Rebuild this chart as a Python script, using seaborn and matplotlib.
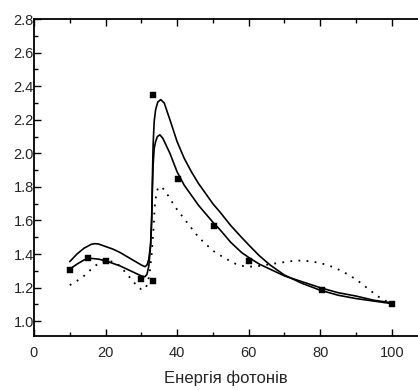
import numpy as np
import pandas as pd
import matplotlib
matplotlib.use('Agg')
import matplotlib.pyplot as plt
import seaborn as sns
from matplotlib.ticker import MultipleLocator

# ---- data ----
# upper solid curve
x_upper = [10, 12, 14, 16, 17, 18, 20, 22, 24, 26, 28, 30, 31, 31.6, 32.1, 32.6, 32.9, 33.1,
           33.3, 33.6, 34.0, 34.6, 35.4, 36.4, 38, 40, 42, 44, 46, 48, 50, 52, 55, 58, 60,
           63, 66, 70, 75, 80, 85, 90, 95, 100]
y_upper = [1.355, 1.40, 1.435, 1.458, 1.462, 1.46, 1.445, 1.43, 1.41, 1.385, 1.36, 1.335,
           1.325, 1.335, 1.37, 1.46, 1.62, 1.85, 2.05, 2.19, 2.26, 2.305, 2.32, 2.30, 2.20,
           2.07, 1.97, 1.89, 1.82, 1.76, 1.70, 1.65, 1.57, 1.50, 1.455, 1.39, 1.335, 1.275,
           1.225, 1.185, 1.155, 1.135, 1.12, 1.105]

# lower solid curve
x_lower = [10, 12, 14, 15, 16, 18, 20, 22, 24, 26, 28, 30, 31, 31.6, 32.1, 32.6, 32.9, 33.1,
           33.3, 33.6, 34.0, 34.5, 35.2, 36, 38, 40, 42, 44, 46, 48, 50, 52, 55, 58, 60, 63,
           66, 70, 75, 80, 85, 90, 95, 100]
y_lower = [1.31, 1.34, 1.365, 1.372, 1.374, 1.37, 1.36, 1.345, 1.33, 1.31, 1.29, 1.27,
           1.265, 1.28, 1.33, 1.45, 1.60, 1.78, 1.93, 2.03, 2.07, 2.10, 2.11, 2.09, 2.00,
           1.89, 1.81, 1.75, 1.69, 1.64, 1.59, 1.545, 1.47, 1.41, 1.38, 1.34, 1.31, 1.27,
           1.235, 1.20, 1.17, 1.15, 1.125, 1.11]

# dotted curve
x_dot = [10, 12, 14, 16, 18, 20, 22, 24, 26, 28, 29, 30, 31, 31.8, 32.4, 32.9, 33.4, 33.8,
         34.3, 34.8, 35.5, 36.6, 38, 40, 42, 44, 46, 48, 50, 53, 56, 58, 60, 62, 65, 68,
         72, 75, 78, 82, 86, 90, 93, 96, 100]
y_dot = [1.215, 1.24, 1.27, 1.31, 1.345, 1.36, 1.355, 1.33, 1.28, 1.23, 1.205, 1.19, 1.19,
         1.225, 1.30, 1.40, 1.55, 1.70, 1.77, 1.80, 1.80, 1.78, 1.73, 1.665, 1.61, 1.555,
         1.50, 1.46, 1.42, 1.38, 1.345, 1.33, 1.325, 1.326, 1.336, 1.346, 1.358, 1.362,
         1.355, 1.336, 1.30, 1.25, 1.20, 1.15, 1.10]

# measured points (squares)
x_pts = [10, 15, 20, 30, 33.4, 33.4, 40.3, 50.4, 60.2, 80.4, 100.2]
y_pts = [1.305, 1.378, 1.36, 1.25, 1.24, 2.35, 1.845, 1.566, 1.36, 1.187, 1.104]

x_ticks = [0, 20, 40, 60, 80, 100]
y_ticks = [1.0, 1.2, 1.4, 1.6, 1.8, 2.0, 2.2, 2.4, 2.6, 2.8]
x_title = 'Енергія фотонів'

# ---- style ----
sns.set_style('ticks')
plt.rcParams['font.family'] = ['Liberation Sans', 'DejaVu Sans']

fig = plt.figure(figsize=(4.18, 3.9), dpi=100)
ax = fig.add_axes([34 / 418, 1 - 336 / 390, 384 / 418, (336 - 19) / 390])

df_upper = pd.DataFrame({'x': x_upper, 'y': y_upper})
df_lower = pd.DataFrame({'x': x_lower, 'y': y_lower})
df_dot = pd.DataFrame({'x': x_dot, 'y': y_dot})
df_pts = pd.DataFrame({'x': x_pts, 'y': y_pts})

sns.lineplot(data=df_upper, x='x', y='y', ax=ax, color='black', linewidth=1.2,
             sort=False, estimator=None)
sns.lineplot(data=df_lower, x='x', y='y', ax=ax, color='black', linewidth=1.2,
             sort=False, estimator=None)
sns.lineplot(data=df_dot, x='x', y='y', ax=ax, color='black', linewidth=1.3,
             linestyle=(0, (1, 3.5)), sort=False, estimator=None)
sns.scatterplot(data=df_pts, x='x', y='y', ax=ax, color='black', marker='s', s=18,
                edgecolor='black', linewidth=0.3, zorder=5)

ax.set_xlim(0, 384 / 3.577)
ax.set_ylim(0.912, 2.8)
ax.set_xticks(x_ticks)
ax.set_yticks(y_ticks)
ax.set_yticklabels([f'{v:.1f}' for v in y_ticks])
ax.xaxis.set_minor_locator(MultipleLocator(10))
ax.yaxis.set_minor_locator(MultipleLocator(0.1))
ax.tick_params(which='both', direction='in', top=True, right=False, labelsize=10.5,
               width=1.0, color='black')
ax.tick_params(which='major', length=5)
ax.tick_params(which='minor', length=3)
ax.tick_params(axis='y', pad=0)
ax.tick_params(axis='x', pad=7)

for side in ['left', 'bottom', 'top']:
    ax.spines[side].set_linewidth(1.3)
    ax.spines[side].set_color('black')
ax.spines['right'].set_visible(False)

ax.set_xlabel(x_title, fontsize=12, labelpad=8)
ax.set_ylabel('')

fig.savefig('out.png', dpi=100)
